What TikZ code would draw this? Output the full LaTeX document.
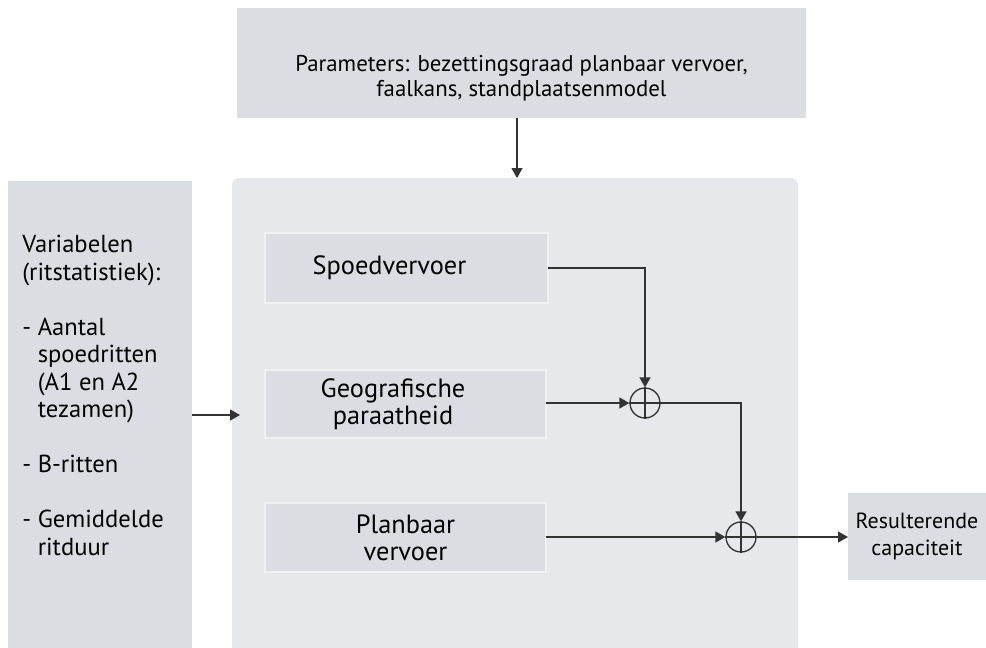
\documentclass[tikz,border=0pt]{standalone}
\usepackage{fontspec}
\setmainfont{PT Sans}
\usepackage{tikz}
\usetikzlibrary{shapes,arrows,arrows.meta,calc,fit,positioning}
\definecolor{boxgray}{HTML}{DCDDE2}
\definecolor{panelgray}{HTML}{E7E8EC}
\definecolor{edgegray}{HTML}{F0F1F3}
\definecolor{linegray}{HTML}{333333}

\begin{document}
\begin{tikzpicture}[>={Triangle[length=0.2cm,width=0.22cm]},x=0.02cm,y=-0.02cm,font=\fontsize{13}{14.2}\selectfont, every fit/.style={inner sep=0pt, outer sep=0pt}]
	\tikzstyle{outer box}=[fill=boxgray, draw=none]
	\tikzstyle{inner box}=[fill=boxgray, draw=edgegray, line width=1pt]
	\tikzstyle{big text}=[font=\fontsize{15}{15.5}\selectfont, align=center]
	\tikzstyle{sum}=[draw=linegray, circle, minimum size=0.6cm, inner sep=0pt, line width=0.75pt]
	\tikzstyle{wire}=[draw=linegray, line width=0.75pt]

	\useasboundingbox (0,0) rectangle (986,647);

	% inputs and model panel
	\node [outer box, fit={(237,8) (806,118)}, label={[align=center,yshift=-0.3cm]center:{Parameters: bezettingsgraad planbaar vervoer,\\faalkans, standplaatsenmodel}}] (params) {};
	\node [fill=panelgray, rounded corners=4pt, fit={(232,178) (798,660)}] (model) {};
	\node [outer box, fit={(8,181) (192,660)}] (vars) {};
	\node [anchor=base west, inner sep=0pt, align=left, font=\fontsize{14}{15.7}\selectfont] (varstext) at (22,555) {Variabelen\\(ritstatistiek):\\[15.5pt]
		- Aantal\\\phantom{- }spoedritten\\\phantom{- }(A1 en A2\\\phantom{- }tezamen)\\[15.5pt]
		- B-ritten\\[15.5pt]
		- Gemiddelde\\\phantom{- }ritduur};

	% model components
	\node [inner box, fit={(265,233) (548,303)}, label={[big text,xshift=-0.34cm]center:Spoedvervoer}] (spoed) {};
	\node [inner box, fit={(265,370) (546,438)}, label={[big text,xshift=-0.25cm]center:{Geografische\\paraatheid}}] (geo) {};
	\node [inner box, fit={(265,503) (546,572)}, label={[big text]center:{Planbaar\\vervoer}}] (plan) {};

	\node [sum] (sum1) at (645,403) {};
	\node [sum] (sum2) at (741,537) {};
	\foreach \s in {sum1,sum2}
		\draw [wire] (\s.north) -- (\s.south) (\s.west) -- (\s.east);

	\node [outer box, fit={(848,493) (995,580)}, label={[align=center,font=\fontsize{12.5}{15.5}\selectfont,xshift=-0.09cm]center:{Resulterende\\capaciteit}}] (result) {};

	% connections
	\coordinate (varsout) at (vars.east |- 0,415);
	\coordinate (modelin) at (240,415);
	\draw [wire,->] (varsout) -- (modelin);
	\draw [wire,->] (params.south -| 517,0) -- (model.north -| 517,0);
	\draw [wire,->] (spoed.east |- 0,268) -| (sum1.north);
	\draw [wire,->] (geo.east |- sum1) -- (sum1.west);
	\draw [wire,->] (sum1.east) -| (sum2.north);
	\draw [wire,->] (plan.east |- sum2) -- (sum2.west);
	\draw [wire,->] (sum2.east) -- (result.west |- sum2);
\end{tikzpicture}
\end{document}
